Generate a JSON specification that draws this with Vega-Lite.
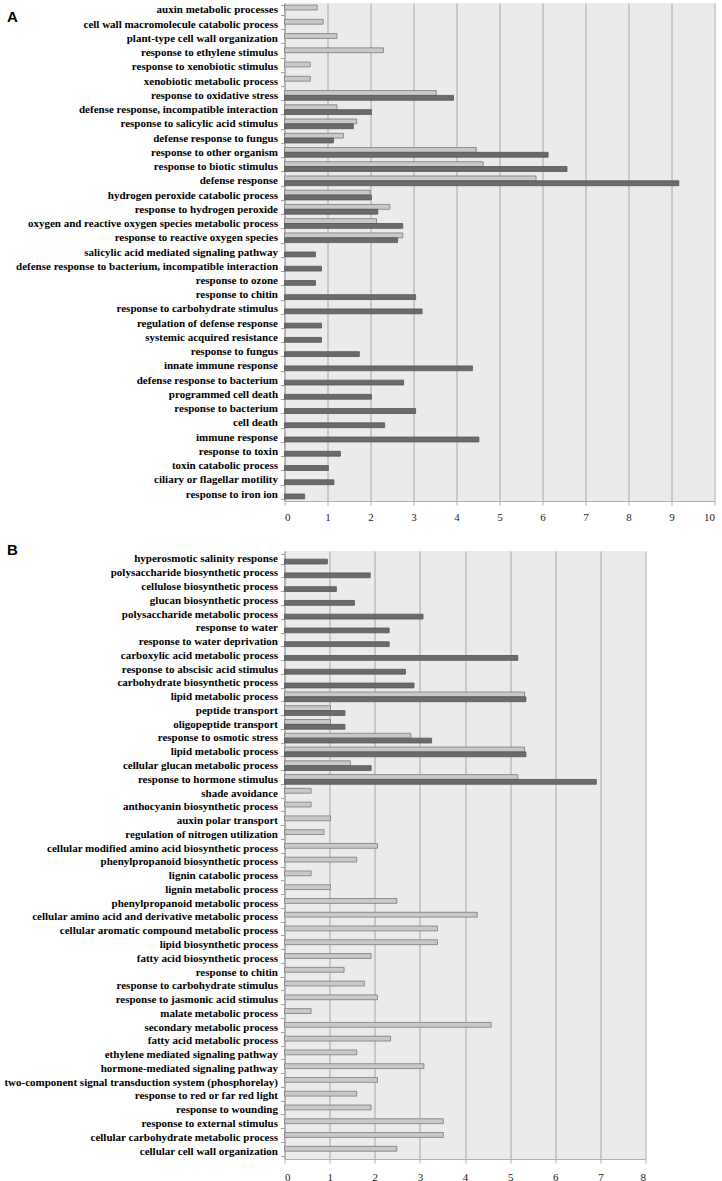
{
  "$schema": "https://vega.github.io/schema/vega-lite/v6.json",
  "background": "white",
  "padding": {"left": 3.5, "top": -3, "right": 2, "bottom": 0},
  "bounds": "flush",
  "spacing": 50,
  "config": {
    "font": "Liberation Sans Narrow",
    "view": {"fill": "#ebebeb", "stroke": null},
    "axisY": {
      "labelFontWeight": "bold",
      "labelFontSize": 11,
      "labelColor": "#000000",
      "labelLimit": 400,
      "labelPadding": 3,
      "tickBand": "extent",
      "tickSize": 4,
      "tickColor": "#a0a0a0",
      "domainColor": "#a0a0a0",
      "titleAngle": 0,
      "titleAlign": "left",
      "titleBaseline": "middle",
      "titleFont": "Liberation Sans",
      "titleFontSize": 15,
      "titleFontWeight": "bold",
      "titleColor": "#000000"
    },
    "axisX": {
      "title": null,
      "grid": true,
      "gridColor": "#a6a6a6",
      "gridWidth": 1,
      "domainColor": "#b0b0b0",
      "tickColor": "#b0b0b0",
      "tickSize": 4,
      "labelFontSize": 11,
      "labelPadding": 6,
      "labelColor": "#222222"
    }
  },
  "datasets": {
    "A": [
      {"order": 1, "term": "auxin metabolic processes", "series": "light", "value": 0.76},
      {"order": 2, "term": "cell wall macromolecule catabolic process", "series": "light", "value": 0.9},
      {"order": 3, "term": "plant-type cell wall organization", "series": "light", "value": 1.22},
      {"order": 4, "term": "response to ethylene stimulus", "series": "light", "value": 2.3},
      {"order": 5, "term": "response to xenobiotic stimulus", "series": "light", "value": 0.6},
      {"order": 6, "term": "xenobiotic metabolic process", "series": "light", "value": 0.6},
      {"order": 7, "term": "response to oxidative stress", "series": "light", "value": 3.53},
      {"order": 7, "term": "response to oxidative stress", "series": "dark", "value": 3.93},
      {"order": 8, "term": "defense response, incompatible interaction", "series": "light", "value": 1.22},
      {"order": 8, "term": "defense response, incompatible interaction", "series": "dark", "value": 2.02},
      {"order": 9, "term": "response to salicylic acid stimulus", "series": "light", "value": 1.68},
      {"order": 9, "term": "response to salicylic acid stimulus", "series": "dark", "value": 1.6},
      {"order": 10, "term": "defense response to fungus", "series": "light", "value": 1.37},
      {"order": 10, "term": "defense response to fungus", "series": "dark", "value": 1.14},
      {"order": 11, "term": "response to other organism", "series": "light", "value": 4.46},
      {"order": 11, "term": "response to other organism", "series": "dark", "value": 6.13},
      {"order": 12, "term": "response to biotic stimulus", "series": "light", "value": 4.62},
      {"order": 12, "term": "response to biotic stimulus", "series": "dark", "value": 6.57},
      {"order": 13, "term": "defense response", "series": "light", "value": 5.85},
      {"order": 13, "term": "defense response", "series": "dark", "value": 9.17},
      {"order": 14, "term": "hydrogen peroxide catabolic process", "series": "light", "value": 1.99},
      {"order": 14, "term": "hydrogen peroxide catabolic process", "series": "dark", "value": 2.02},
      {"order": 15, "term": "response to hydrogen peroxide", "series": "light", "value": 2.45},
      {"order": 15, "term": "response to hydrogen peroxide", "series": "dark", "value": 2.17},
      {"order": 16, "term": "oxygen and reactive oxygen species metabolic process", "series": "light", "value": 2.14},
      {"order": 16, "term": "oxygen and reactive oxygen species metabolic process", "series": "dark", "value": 2.75},
      {"order": 17, "term": "response to reactive oxygen species", "series": "light", "value": 2.75},
      {"order": 17, "term": "response to reactive oxygen species", "series": "dark", "value": 2.63},
      {"order": 18, "term": "salicylic acid mediated signaling pathway", "series": "dark", "value": 0.72},
      {"order": 19, "term": "defense response to bacterium, incompatible interaction", "series": "dark", "value": 0.86},
      {"order": 20, "term": "response to ozone", "series": "dark", "value": 0.72},
      {"order": 21, "term": "response to chitin", "series": "dark", "value": 3.05},
      {"order": 22, "term": "response to carbohydrate stimulus", "series": "dark", "value": 3.2},
      {"order": 23, "term": "regulation of defense response", "series": "dark", "value": 0.86},
      {"order": 24, "term": "systemic acquired resistance", "series": "dark", "value": 0.86},
      {"order": 25, "term": "response to fungus", "series": "dark", "value": 1.74},
      {"order": 26, "term": "innate immune response", "series": "dark", "value": 4.37},
      {"order": 27, "term": "defense response to bacterium", "series": "dark", "value": 2.77},
      {"order": 28, "term": "programmed cell death", "series": "dark", "value": 2.02},
      {"order": 29, "term": "response to bacterium", "series": "dark", "value": 3.05},
      {"order": 30, "term": "cell death", "series": "dark", "value": 2.33},
      {"order": 31, "term": "immune response", "series": "dark", "value": 4.52},
      {"order": 32, "term": "response to toxin", "series": "dark", "value": 1.3},
      {"order": 33, "term": "toxin catabolic process", "series": "dark", "value": 1.02},
      {"order": 34, "term": "ciliary or flagellar motility", "series": "dark", "value": 1.15},
      {"order": 35, "term": "response to iron ion", "series": "dark", "value": 0.47}
    ],
    "B": [
      {"order": 1, "term": "hyperosmotic salinity response", "series": "dark", "value": 0.95},
      {"order": 2, "term": "polysaccharide biosynthetic process", "series": "dark", "value": 1.9},
      {"order": 3, "term": "cellulose biosynthetic process", "series": "dark", "value": 1.15},
      {"order": 4, "term": "glucan biosynthetic process", "series": "dark", "value": 1.55},
      {"order": 5, "term": "polysaccharide metabolic process", "series": "dark", "value": 3.07},
      {"order": 6, "term": "response to water", "series": "dark", "value": 2.32},
      {"order": 7, "term": "response to water deprivation", "series": "dark", "value": 2.32},
      {"order": 8, "term": "carboxylic acid metabolic process", "series": "dark", "value": 5.17},
      {"order": 9, "term": "response to abscisic acid stimulus", "series": "dark", "value": 2.68},
      {"order": 10, "term": "carbohydrate biosynthetic process", "series": "dark", "value": 2.87},
      {"order": 11, "term": "lipid metabolic process", "series": "light", "value": 5.32},
      {"order": 11, "term": "lipid metabolic process", "series": "dark", "value": 5.35},
      {"order": 12, "term": "peptide transport", "series": "light", "value": 1.02},
      {"order": 12, "term": "peptide transport", "series": "dark", "value": 1.34},
      {"order": 13, "term": "oligopeptide transport", "series": "light", "value": 1.02},
      {"order": 13, "term": "oligopeptide transport", "series": "dark", "value": 1.34},
      {"order": 14, "term": "response to osmotic stress", "series": "light", "value": 2.8},
      {"order": 14, "term": "response to osmotic stress", "series": "dark", "value": 3.26},
      {"order": 15, "term": "lipid metabolic process ", "series": "light", "value": 5.32},
      {"order": 15, "term": "lipid metabolic process ", "series": "dark", "value": 5.35},
      {"order": 16, "term": "cellular glucan metabolic process", "series": "light", "value": 1.46},
      {"order": 16, "term": "cellular glucan metabolic process", "series": "dark", "value": 1.92},
      {"order": 17, "term": "response to hormone stimulus", "series": "light", "value": 5.17},
      {"order": 17, "term": "response to hormone stimulus", "series": "dark", "value": 6.91},
      {"order": 18, "term": "shade avoidance", "series": "light", "value": 0.59},
      {"order": 19, "term": "anthocyanin biosynthetic process", "series": "light", "value": 0.59},
      {"order": 20, "term": "auxin polar transport", "series": "light", "value": 1.02},
      {"order": 21, "term": "regulation of nitrogen utilization", "series": "light", "value": 0.875},
      {"order": 22, "term": "cellular modified amino acid biosynthetic process", "series": "light", "value": 2.06},
      {"order": 23, "term": "phenylpropanoid biosynthetic process", "series": "light", "value": 1.6},
      {"order": 24, "term": "lignin catabolic process", "series": "light", "value": 0.59},
      {"order": 25, "term": "lignin metabolic process", "series": "light", "value": 1.02},
      {"order": 26, "term": "phenylpropanoid metabolic process", "series": "light", "value": 2.49},
      {"order": 27, "term": "cellular amino acid and derivative metabolic process", "series": "light", "value": 4.27},
      {"order": 28, "term": "cellular aromatic compound metabolic process", "series": "light", "value": 3.39},
      {"order": 29, "term": "lipid biosynthetic process", "series": "light", "value": 3.39},
      {"order": 30, "term": "fatty acid biosynthetic process", "series": "light", "value": 1.92},
      {"order": 31, "term": "response to chitin", "series": "light", "value": 1.32},
      {"order": 32, "term": "response to carbohydrate stimulus", "series": "light", "value": 1.77},
      {"order": 33, "term": "response to jasmonic acid stimulus", "series": "light", "value": 2.06},
      {"order": 34, "term": "malate metabolic process", "series": "light", "value": 0.59},
      {"order": 35, "term": "secondary metabolic process", "series": "light", "value": 4.58},
      {"order": 36, "term": "fatty acid metabolic process", "series": "light", "value": 2.35},
      {"order": 37, "term": "ethylene mediated signaling pathway", "series": "light", "value": 1.6},
      {"order": 38, "term": "hormone-mediated signaling pathway", "series": "light", "value": 3.09},
      {"order": 39, "term": "two-component signal transduction system (phosphorelay)", "series": "light", "value": 2.06},
      {"order": 40, "term": "response to red or far red light", "series": "light", "value": 1.6},
      {"order": 41, "term": "response to wounding", "series": "light", "value": 1.92},
      {"order": 42, "term": "response to external stimulus", "series": "light", "value": 3.52},
      {"order": 43, "term": "cellular carbohydrate metabolic process", "series": "light", "value": 3.52},
      {"order": 44, "term": "cellular cell wall organization", "series": "light", "value": 2.49}
    ]
  },
  "vconcat": [
    {
      "width": 430,
      "height": 498,
      "data": {"name": "A"},
      "mark": {"type": "bar", "strokeWidth": 0.8},
      "encoding": {
        "y": {
          "field": "term",
          "type": "nominal",
          "sort": {"field": "order", "op": "min"},
          "scale": {"paddingInner": 0.32, "paddingOuter": 0.15},
          "axis": {"title": "A", "titleX": -278, "titleY": 13}
        },
        "yOffset": {"field": "series", "scale": {"domain": ["light", "dark"]}},
        "x": {
          "field": "value",
          "type": "quantitative",
          "scale": {"domain": [0, 10], "nice": false},
          "axis": {"values": [0, 1, 2, 3, 4, 5, 6, 7, 8, 9, 10]}
        },
        "fill": {"field": "series", "scale": {"domain": ["light", "dark"], "range": ["#c9c9c9", "#6b6b6b"]}, "legend": null},
        "stroke": {"field": "series", "scale": {"domain": ["light", "dark"], "range": ["#7a7a7a", "#555555"]}, "legend": null}
      }
    },
    {
      "width": 361,
      "height": 608,
      "data": {"name": "B"},
      "mark": {"type": "bar", "strokeWidth": 0.8},
      "encoding": {
        "y": {
          "field": "term",
          "type": "nominal",
          "sort": {"field": "order", "op": "min"},
          "scale": {"paddingInner": 0.32, "paddingOuter": 0.24},
          "axis": {"title": "B", "titleX": -278, "titleY": -2}
        },
        "yOffset": {"field": "series", "scale": {"domain": ["light", "dark"]}},
        "x": {
          "field": "value",
          "type": "quantitative",
          "scale": {"domain": [0, 8], "nice": false},
          "axis": {"values": [0, 1, 2, 3, 4, 5, 6, 7, 8], "labelPadding": 8}
        },
        "fill": {"field": "series", "scale": {"domain": ["light", "dark"], "range": ["#c9c9c9", "#6b6b6b"]}, "legend": null},
        "stroke": {"field": "series", "scale": {"domain": ["light", "dark"], "range": ["#7a7a7a", "#555555"]}, "legend": null}
      }
    }
  ]
}
